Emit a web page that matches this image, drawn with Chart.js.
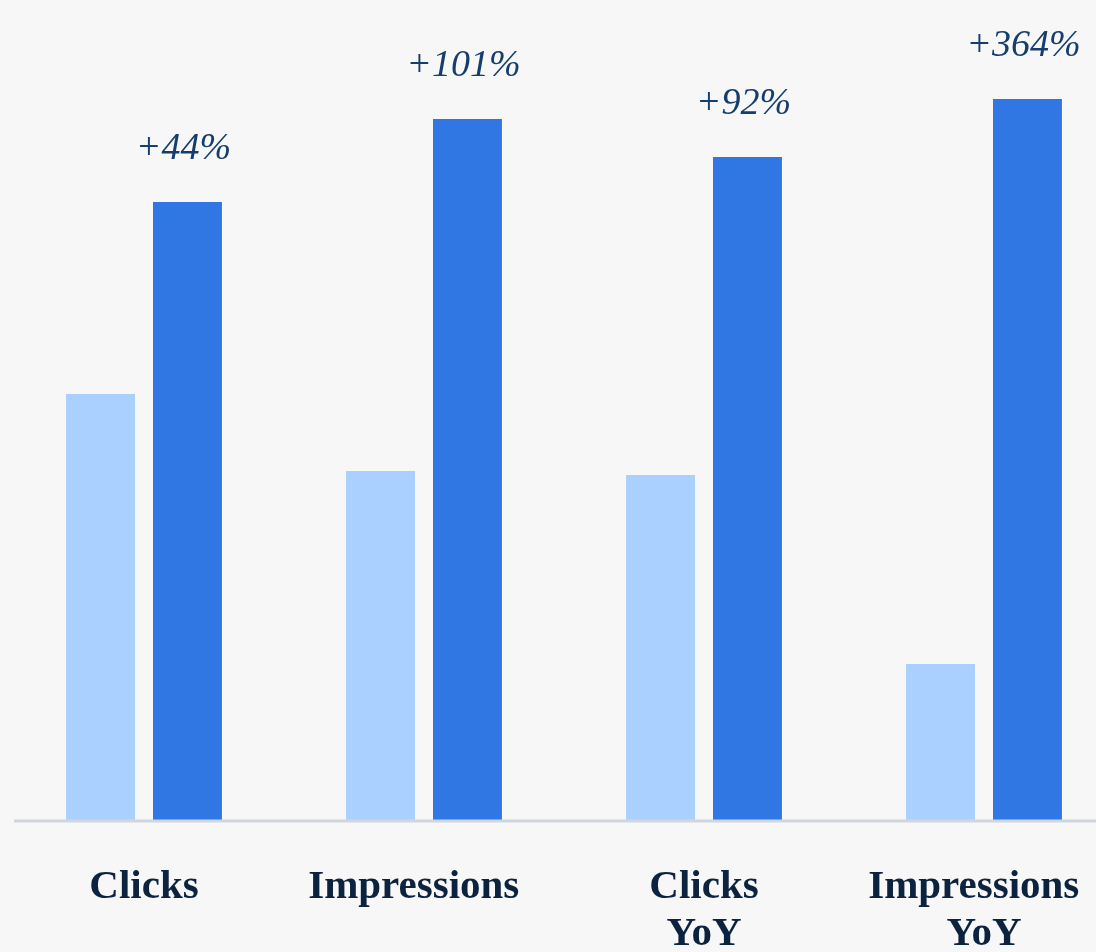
<!DOCTYPE html>
<html>
<head>
<meta charset="utf-8">
<script src="https://cdn.jsdelivr.net/npm/chart.js@4/dist/chart.umd.min.js"></script>
<style>
    html, body { margin: 0; padding: 0; background: #f7f7f7; overflow: hidden; }
    #wrap { width: 1130px; height: 960px; position: relative; }
</style>
</head>
<body>
<div id="wrap"><canvas id="chart"></canvas></div>
<script>
// chart values (relative heights)
const categories = [['Clicks'], ['Impressions  '], ['Clicks', 'YoY'], ['Impressions  ', 'YoY']];
const before = [426, 349, 345, 156];
const after = [618, 701, 663, 721];
const changes = ['+44%', '+101%', '+92%', '+364%'];

// draws the baseline and the change labels over the dark bars
const changeLabels = {
    id: 'changeLabels',
    afterDatasetsDraw(chart) {
        const ctx = chart.ctx;
        const y0 = chart.scales.y.getPixelForValue(0);
        ctx.save();
        ctx.strokeStyle = '#d0d6de';
        ctx.lineWidth = 3;
        ctx.beginPath();
        ctx.moveTo(14, y0 + 1);
        ctx.lineTo(chart.width, y0 + 1);
        ctx.stroke();

        const meta = chart.getDatasetMeta(1);
        ctx.font = 'italic 38px "Liberation Serif"';
        ctx.fillStyle = '#163e6c';
        ctx.textAlign = 'center';
        ctx.textBaseline = 'middle';
        meta.data.forEach((bar, i) => {
            ctx.fillText(changes[i], bar.x - 4, bar.y - 53);
        });
        ctx.restore();
    }
};

const data = {
    labels: categories,
    datasets: [
        {
            label: 'Before',
            data: before,
            backgroundColor: '#aad0ff',
            categoryPercentage: 0.621,
            barPercentage: 0.793,
        },
        {
            label: 'After',
            data: after,
            backgroundColor: '#3077e3',
            categoryPercentage: 0.621,
            barPercentage: 0.793,
        },
    ]
};

const config = {
    type: 'bar',
    data: data,
    options: {
        responsive: true,
        maintainAspectRatio: false,
        animation: false,
        layout: {
            padding: { left: 4, right: 6, top: 20, bottom: 0 }
        },
        scales: {
            y: {
                display: false,
                min: 0,
                max: 800,
            },
            x: {
                // ticks are hidden, tickLength only pushes the labels down
                grid: { display: false, drawTicks: true, tickLength: 44 },
                border: { display: false },
                ticks: {
                    color: '#0c2340',
                    padding: 0,
                    maxRotation: 0,
                    autoSkip: false,
                    font: {
                        family: 'Liberation Serif',
                        size: 41,
                        weight: 'bold',
                        lineHeight: 1.146,
                    }
                },
                afterFit(scale) {
                    scale.height = 140;
                }
            }
        },
        plugins: {
            legend: { display: false },
            tooltip: { enabled: false },
        },
    },
    plugins: [changeLabels],
};

new Chart(document.getElementById('chart').getContext('2d'), config);
</script>
</body>
</html>
